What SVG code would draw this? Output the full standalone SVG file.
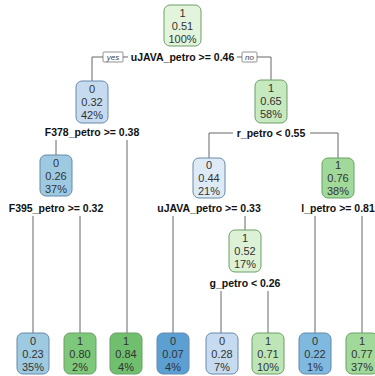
<svg xmlns="http://www.w3.org/2000/svg" width="375" height="376" viewBox="0 0 375 376">
<style>
.bg{fill:#ffffff}
.box{stroke-width:1}
.g{stroke:#6a9f64}
.b{stroke:#6688a8}
.nt{font-family:"Liberation Sans",Arial,sans-serif;font-size:11px;fill:#333;text-anchor:middle}
.sl{font-family:"Liberation Sans",Arial,sans-serif;font-size:10.5px;font-weight:bold;fill:#111;text-anchor:middle}
.yn{font-family:"Liberation Sans",Arial,sans-serif;font-size:8px;font-style:italic;fill:#444;text-anchor:middle}
.ynb{fill:#fff;stroke:#777;stroke-width:0.8}
.ln{fill:none;stroke:#666;stroke-width:1}
</style>
<rect class="bg" x="0" y="0" width="375" height="376"/>
<g id="connectors">
<path class="ln" d="M92,81 V57 H103 M123,57 H128 M237,57 H242 M257,57 H271 V80"/>
<path class="ln" d="M56,140 V155 M127,140 V333"/>
<path class="ln" d="M209,158 V133 H233 M310,133 H338 V158"/>
<path class="ln" d="M33,216 V333 M80,216 V333"/>
<path class="ln" d="M173,216 V333 M245,216 V230"/>
<path class="ln" d="M315,216 V333 M362,216 V333"/>
<path class="ln" d="M221,291 V333 M268,291 V333"/>
</g>
<g id="edge-labels">
<rect class="ynb" x="103" y="52" width="20" height="10" rx="1"/>
<text class="yn" x="113" y="60">yes</text>
<rect class="ynb" x="242" y="52" width="15" height="10" rx="1"/>
<text class="yn" x="249.5" y="60">no</text>
</g>
<g id="split-labels">
<text class="sl" x="182.5" y="61">uJAVA_petro &gt;= 0.46</text>
<text class="sl" x="92" y="136">F378_petro &gt;= 0.38</text>
<text class="sl" x="271" y="137">r_petro &lt; 0.55</text>
<text class="sl" x="56" y="212">F395_petro &gt;= 0.32</text>
<text class="sl" x="209" y="212">uJAVA_petro &gt;= 0.33</text>
<text class="sl" x="338" y="212">l_petro &gt;= 0.81</text>
<text class="sl" x="245" y="287">g_petro &lt; 0.26</text>
</g>
<g id="node1">
<rect class="box g" x="164" y="5" width="37" height="41" rx="6" fill="#e3f4dc"/>
<text class="nt" x="182.5" y="17">1</text><text class="nt" x="182.5" y="30">0.51</text><text class="nt" x="182.5" y="43">100%</text>
</g>
<g id="node2">
<rect class="box b" x="76" y="81" width="32" height="42" rx="6" fill="#c6dbef"/>
<text class="nt" x="92" y="93">0</text><text class="nt" x="92" y="106">0.32</text><text class="nt" x="92" y="119">42%</text>
</g>
<g id="node3">
<rect class="box g" x="255" y="80" width="32" height="43" rx="6" fill="#c7e9c0"/>
<text class="nt" x="271" y="92">1</text><text class="nt" x="271" y="105">0.65</text><text class="nt" x="271" y="118">58%</text>
</g>
<g id="node4">
<rect class="box b" x="40" y="155" width="32" height="41" rx="6" fill="#9ecae1"/>
<text class="nt" x="56" y="167">0</text><text class="nt" x="56" y="180">0.26</text><text class="nt" x="56" y="193">37%</text>
</g>
<g id="node5">
<rect class="box b" x="193" y="158" width="32" height="40" rx="6" fill="#deebf7"/>
<text class="nt" x="209" y="169">0</text><text class="nt" x="209" y="182">0.44</text><text class="nt" x="209" y="195">21%</text>
</g>
<g id="node6">
<rect class="box g" x="322" y="158" width="32" height="40" rx="6" fill="#a1d99b"/>
<text class="nt" x="338" y="169">1</text><text class="nt" x="338" y="182">0.76</text><text class="nt" x="338" y="195">38%</text>
</g>
<g id="node7">
<rect class="box g" x="229" y="230" width="32" height="42" rx="6" fill="#dcf1d6"/>
<text class="nt" x="245" y="242">1</text><text class="nt" x="245" y="255">0.52</text><text class="nt" x="245" y="268">17%</text>
</g>
<g id="leaf1">
<rect class="box b" x="17" y="333" width="32" height="41" rx="6" fill="#9ecae1"/>
<text class="nt" x="33" y="345">0</text><text class="nt" x="33" y="358">0.23</text><text class="nt" x="33" y="371">35%</text>
</g>
<g id="leaf2">
<rect class="box g" x="64" y="333" width="32" height="41" rx="6" fill="#7ec87b"/>
<text class="nt" x="80" y="345">1</text><text class="nt" x="80" y="358">0.80</text><text class="nt" x="80" y="371">2%</text>
</g>
<g id="leaf3">
<rect class="box g" x="110" y="333" width="32" height="41" rx="6" fill="#6fbf6e"/>
<text class="nt" x="126" y="345">1</text><text class="nt" x="126" y="358">0.84</text><text class="nt" x="126" y="371">4%</text>
</g>
<g id="leaf4">
<rect class="box b" x="157" y="333" width="32" height="41" rx="6" fill="#5c9fd3"/>
<text class="nt" x="173" y="345">0</text><text class="nt" x="173" y="358">0.07</text><text class="nt" x="173" y="371">4%</text>
</g>
<g id="leaf5">
<rect class="box b" x="206" y="333" width="32" height="41" rx="6" fill="#c6dbef"/>
<text class="nt" x="222" y="345">0</text><text class="nt" x="222" y="358">0.28</text><text class="nt" x="222" y="371">7%</text>
</g>
<g id="leaf6">
<rect class="box g" x="252" y="333" width="32" height="41" rx="6" fill="#bde5b5"/>
<text class="nt" x="268" y="345">1</text><text class="nt" x="268" y="358">0.71</text><text class="nt" x="268" y="371">10%</text>
</g>
<g id="leaf7">
<rect class="box b" x="299" y="333" width="32" height="41" rx="6" fill="#7fb9e0"/>
<text class="nt" x="315" y="345">0</text><text class="nt" x="315" y="358">0.22</text><text class="nt" x="315" y="371">1%</text>
</g>
<g id="leaf8">
<rect class="box g" x="346" y="333" width="32" height="41" rx="6" fill="#a1d99b"/>
<text class="nt" x="362" y="345">1</text><text class="nt" x="362" y="358">0.77</text><text class="nt" x="362" y="371">37%</text>
</g>
</svg>
